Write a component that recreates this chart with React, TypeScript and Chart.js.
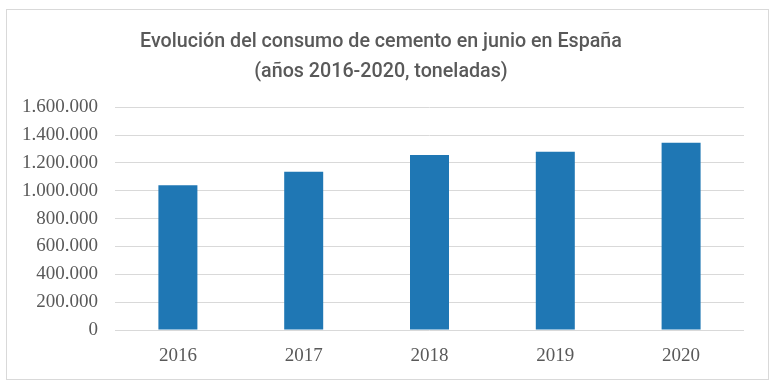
import React, { useEffect, useRef } from "react";
import { Chart, registerables } from "chart.js";

Chart.register(...registerables);

const categories = ["2016", "2017", "2018", "2019", "2020"];
const consumo = [1039000, 1137000, 1258000, 1280000, 1345000];
const titleLines = [
  "Evolución del consumo de cemento en junio en España",
  "(años 2016-2020, toneladas)",
];
const yMax = 1600000;
const yStep = 200000;

function fmt(v: number): string {
  return String(Math.round(v)).replace(/\B(?=(\d{3})+(?!\d))/g, ".");
}

export default function App() {
  const ref = useRef<HTMLCanvasElement | null>(null);

  useEffect(() => {
    document.body.style.margin = "0";
    if (!ref.current) return;
    const chart = new Chart(ref.current, {
      type: "bar",
      data: {
        labels: categories,
        datasets: [
          {
            data: consumo,
            backgroundColor: "#1F77B4",
            categoryPercentage: 1,
            barPercentage: 0.31,
          },
        ],
      },
      options: {
        animation: false,
        responsive: false,
        layout: { padding: { left: 18, right: 30, top: 0, bottom: 0 } },
        plugins: {
          legend: { display: false },
          tooltip: { enabled: false },
          title: {
            display: true,
            text: titleLines,
            color: "#595959",
            font: { family: "Roboto", size: 19.7, weight: "500", lineHeight: 1.53 },
            padding: { top: 27, bottom: 20 },
          },
        },
        scales: {
          x: {
            grid: { display: false, drawTicks: false },
            border: { display: false },
            ticks: {
              color: "#595959",
              font: { family: "Liberation Serif", size: 19 },
              padding: 15,
            },
            afterFit: (s: any) => {
              s.height = 62;
            },
          },
          y: {
            min: 0,
            max: yMax,
            grid: { color: "#d9d9d9", lineWidth: 1, drawTicks: false },
            border: { display: false },
            ticks: {
              stepSize: yStep,
              color: "#595959",
              font: { family: "Liberation Serif", size: 19 },
              padding: 17,
              callback: (v: any) => fmt(Number(v)),
            },
            afterFit: (s: any) => {
              s.width = 97;
            },
          },
        },
      },
    });
    return () => chart.destroy();
  }, []);

  return (
    <div style={{ position: "relative", width: 774, height: 392, background: "#fff" }}>
      <canvas ref={ref} width={774} height={392} style={{ position: "absolute", left: 0, top: 0 }} />
      <div
        style={{
          position: "absolute",
          left: 6,
          top: 9,
          width: 761,
          height: 369,
          border: "1px solid #d9d9d9",
          pointerEvents: "none",
        }}
      />
    </div>
  );
}
